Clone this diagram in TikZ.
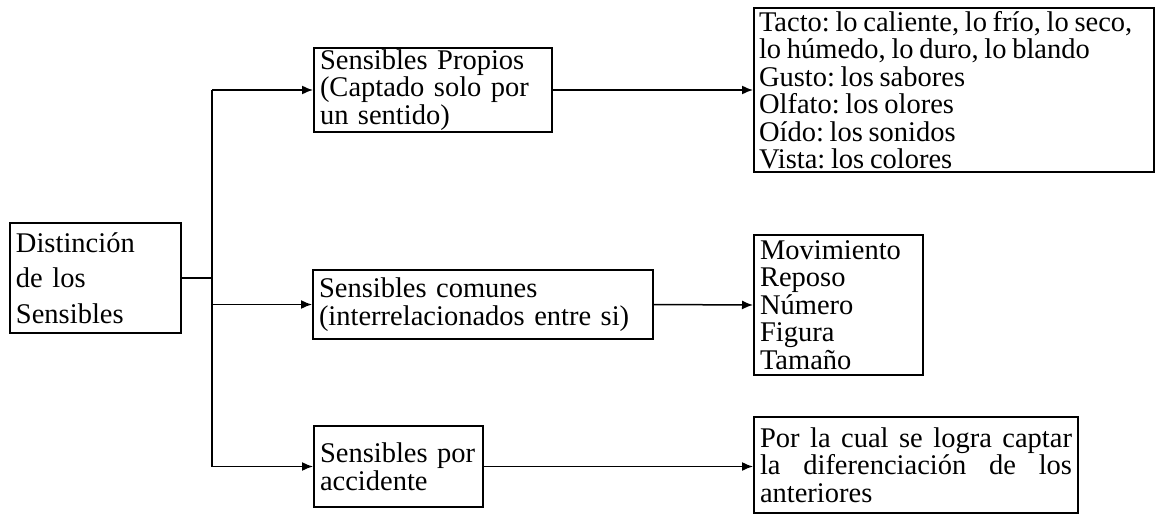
\documentclass[tikz,border=0pt]{standalone}
\usepackage{fontspec}
\setmainfont{Liberation Serif}
\usetikzlibrary{arrows.meta,positioning}

\begin{document}
\begin{tikzpicture}[
  x=0.5pt, y=-0.5pt,
  box/.style={rectangle, draw, line width=1pt, align=left, inner xsep=3pt, inner ysep=1pt, font=\fontsize{14.25}{13.75}\selectfont\frenchspacing},
  yes/.style={-{Latex[length=5.5pt,width=4.5pt]}, line width=0.75pt},
  trunk/.style={line width=0.75pt},
]
\useasboundingbox (0,0) rectangle (1156,514);
\node[box, text width=79.5pt, minimum height=55pt, font=\fontsize{14.25}{17.75}\selectfont] (dist) at (95.5,278) {Distinción\\de los\\Sensibles};
\node[box, text width=113pt, minimum height=40pt] (propios) at (433,90) {Sensibles Propios\\(Captado solo por\\un sentido)};
\node[box, text width=164pt, minimum height=34.5pt] (comunes) at (483,304.5) {Sensibles comunes\\(interrelacionados entre si)};
\node[box, text width=78.5pt, minimum height=40.5pt] (accidente) at (398.5,466.5) {Sensibles por\\accidente};
\node[box, text width=195pt, inner xsep=2.5pt, minimum height=82pt] (tacto) at (954,90) {\spaceskip=0.2em\relax Tacto: lo caliente, lo frío, lo seco,\\lo húmedo, lo duro, lo blando\\Gusto: los sabores\\Olfato: los olores\\Oído: los sonidos\\Vista: los colores};
\node[box, text width=78.5pt, minimum height=70pt] (movim) at (838.5,305) {Movimiento\\Reposo\\Número\\Figura\\Tamaño};
\node[box, text width=156pt, minimum height=48pt] (porla) at (916,465) {\leavevmode\hbox to 156pt{Por\hfill la\hfill cual\hfill se\hfill logra\hfill captar}\\\leavevmode\hbox to 156pt{la\hfill diferenciación\hfill de\hfill los}\\anteriores};

\coordinate (split) at (212,278);
\draw[trunk] (dist.east) -- (split);
\draw[trunk] (split |- propios.west) -- (split |- accidente.west);
\draw[yes] (split |- propios.west) -- (propios.west);
\draw[yes] (split |- comunes.west) -- (comunes.west);
\draw[yes] (split |- accidente.west) -- (accidente.west);
\draw[yes] (propios.east) -- (tacto.west);
\draw[yes] (comunes.east) -- (movim.west);
\draw[yes] (accidente.east) -- (accidente.east -| porla.west);
\end{tikzpicture}
\end{document}
